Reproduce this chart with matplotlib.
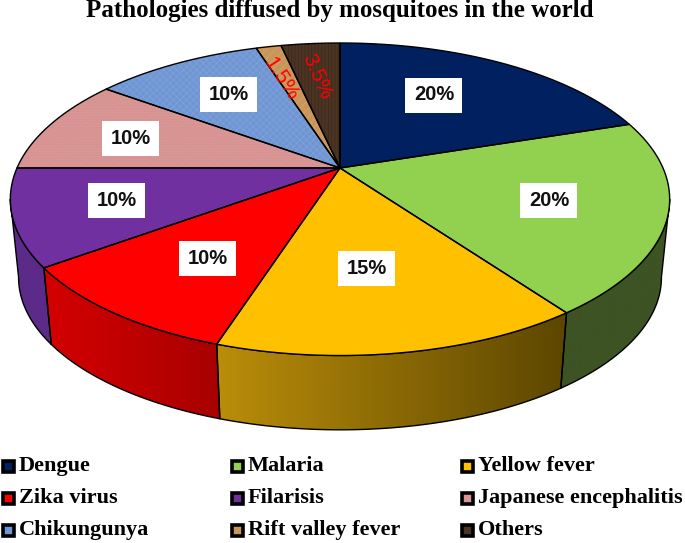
import numpy as np
import matplotlib
matplotlib.use("Agg")
import matplotlib.pyplot as plt
from matplotlib.patches import Polygon, Rectangle

# data
names = ["Dengue", "Malaria", "Yellow fever", "Zika virus", "Filarisis",
         "Japanese encephalitis", "Chikungunya", "Rift valley fever", "Others"]
shares = [20, 20, 15, 10, 10, 10, 10, 1.5, 3.5]
share_labels = ["20%", "20%", "15%", "10%", "10%", "10%", "10%", "1.5%", "3.5%"]

top_colors = ["#002060", "#92D050", "#FFC000", "#FF0000", "#7030A0",
              "#D99694", "#6F95D2", "#C99558", "#4B3423"]
hatch_colors = [None, None, None, None, None, "#CF8F8D", "#7FA2DA", "#D6A66E", "#3A281A"]
hatches = [None, None, None, None, None, "......", "xxxxx", "////", "|||||"]
side_left = ["#002060", "#3D5323", "#BA8D0A", "#D40000", "#5C2A88", None, None, None, None]
side_right = ["#002060", "#3D5323", "#5C4600", "#A80000", "#5C2A88", None, None, None, None]

# where the labels sit (text placement in pixels)
label_xy = [(434, 95), (549, 200), (367, 268), (208, 258), (117, 200),
            (131, 138), (229, 94), (281, 79), (317, 77)]
label_rot = [0, 0, 0, 0, 0, 0, 0, -57, -66]

# projection of the tilted disc
cx, cy = 340, 168
R, b, k = 323, 150, 0.20
shrink, drop = 0.975, 247
first_vis, last_vis = 101.5, 258.5

plt.rcParams["hatch.linewidth"] = 0.5


def project(deg):
    t = np.radians(deg)
    w = 1 + k * np.cos(t)
    return cx + R * np.sin(t) / w, cy - b * np.cos(t) / w


fig = plt.figure(figsize=(6.85, 5.43), dpi=100)
ax = fig.add_axes([0, 0, 1, 1])
ax.axis("off")

edges = np.concatenate([[0], np.cumsum(shares)]) * 3.6

# side wall first, the top face covers what is left over
for i in range(len(shares)):
    a0 = max(edges[i], first_vis)
    a1 = min(edges[i + 1], last_vis)
    if a1 <= a0 or side_left[i] is None:
        continue
    th = np.linspace(a0, a1, 80)
    xt, yt = project(th)
    xb = cx + shrink * (xt - cx)
    yb = drop + shrink * (yt - cy)
    pts = np.column_stack([np.r_[xt, xb[::-1]], np.r_[yt, yb[::-1]]])
    poly = Polygon(pts, closed=True, facecolor="none", edgecolor="black", lw=1.0, zorder=2)
    ax.add_patch(poly)
    c0 = np.array(matplotlib.colors.to_rgb(side_left[i]))
    c1 = np.array(matplotlib.colors.to_rgb(side_right[i]))
    ramp = np.linspace(0, 1, 128)[None, :, None]
    grad = c0[None, None, :] * (1 - ramp) + c1[None, None, :] * ramp
    im = ax.imshow(grad, extent=(pts[:, 0].min(), pts[:, 0].max(), pts[:, 1].max(), pts[:, 1].min()),
                   aspect="auto", zorder=1)
    im.set_clip_path(poly)

# top face
for i in range(len(shares)):
    th = np.linspace(edges[i], edges[i + 1], 120)
    xt, yt = project(th)
    pts = np.column_stack([np.r_[cx, xt], np.r_[cy, yt]])
    ax.add_patch(Polygon(pts, closed=True, facecolor=top_colors[i], edgecolor="none", zorder=3))
    if hatches[i]:
        ax.add_patch(Polygon(pts, closed=True, facecolor="none", edgecolor=hatch_colors[i],
                             hatch=hatches[i], lw=0, zorder=3.1))
    ax.add_patch(Polygon(pts, closed=True, facecolor="none", edgecolor="black", lw=1.0, zorder=3.2))

# percentage labels
for i, lab in enumerate(share_labels):
    x, y = label_xy[i]
    if label_rot[i]:
        ax.text(x, y, lab, color="#FF0000", fontsize=15, family="Liberation Sans",
                rotation=label_rot[i], rotation_mode="anchor", ha="center", va="center", zorder=5)
    else:
        ax.add_patch(Rectangle((x - 28.5, y - 17.5), 57, 35, facecolor="white", edgecolor="none", zorder=4))
        ax.text(x, y, lab, color="#111111", fontsize=14.5, fontweight="bold", family="Liberation Sans",
                ha="center", va="center", zorder=5)

ax.text(340, 10, "Pathologies diffused by mosquitoes in the world", fontsize=18, fontweight="bold",
        family="Liberation Serif", ha="center", va="center", color="black")

# legend, three columns by three rows
for i, name in enumerate(names):
    col, row = i % 3, i // 3
    x = [2, 231, 461][col]
    y = [466, 498, 530][row]
    ax.add_patch(Rectangle((x + 1, y - 5.5), 11, 11, facecolor=top_colors[i], edgecolor="black", lw=2.6))
    ax.text(x + 17, y, name, fontsize=16, fontweight="bold", family="Liberation Serif",
            ha="left", va="center", color="black")

ax.set_xlim(0, 685)
ax.set_ylim(543, 0)
fig.savefig("out.png", dpi=100)
